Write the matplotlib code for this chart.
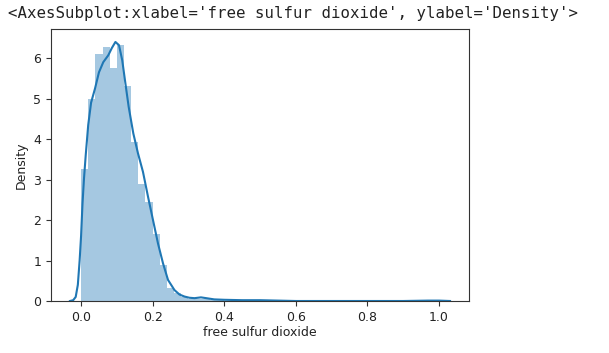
import matplotlib
matplotlib.use("Agg")
import matplotlib.pyplot as plt
import numpy as np

# Histogram (density) of the scaled variable, 50 bins over [0, 1]
bin_edges_start = 0.0
bin_width = 0.02
hist_density = [3.26, 5.00, 6.10, 6.28, 5.76, 6.32, 5.30, 3.92, 2.88, 2.45,
                1.66, 0.89, 0.33, 0.20, 0.10, 0.06, 0.05, 0.06, 0.03, 0.02,
                0.01, 0.01, 0.01, 0.01, 0.00, 0.01, 0.00, 0.00, 0.00, 0.00,
                0.00, 0.00, 0.00, 0.00, 0.00, 0.00, 0.00, 0.00, 0.00, 0.00,
                0.00, 0.00, 0.00, 0.00, 0.00, 0.00, 0.00, 0.00, 0.00, 0.01]

# KDE curve
kde_x = [-0.031, -0.022, -0.015, -0.009, -0.004, 0.000, 0.004, 0.008, 0.013, 0.020,
         0.028, 0.039, 0.050, 0.062, 0.076, 0.086, 0.096, 0.106, 0.115, 0.124,
         0.133, 0.146, 0.159, 0.173, 0.187, 0.201, 0.215, 0.229, 0.243, 0.261,
         0.275, 0.289, 0.303, 0.317, 0.335, 0.350, 0.372, 0.40, 0.45, 0.50,
         0.55, 0.60, 0.70, 0.80, 0.90, 0.97, 1.00, 1.031]
kde_y = [0.00, 0.02, 0.10, 0.40, 1.00, 1.60, 2.40, 3.00, 3.60, 4.35,
         4.90, 5.25, 5.65, 5.90, 6.07, 6.25, 6.40, 6.32, 5.95, 5.37,
         4.80, 4.14, 3.65, 3.19, 2.58, 2.00, 1.42, 0.93, 0.52, 0.27,
         0.16, 0.11, 0.08, 0.07, 0.09, 0.07, 0.04, 0.03, 0.02, 0.02,
         0.01, 0.00, 0.00, 0.00, 0.00, 0.01, 0.01, 0.00]

x_ticks = [0.0, 0.2, 0.4, 0.6, 0.8, 1.0]
y_ticks = [0, 1, 2, 3, 4, 5, 6]
x_label = "free sulfur dioxide"
y_label = "Density"
header = "<AxesSubplot:xlabel='free sulfur dioxide', ylabel='Density'>"

color = "#1f77b4"

fig = plt.figure(figsize=(6.09, 3.53), dpi=100)
ax = fig.add_axes([51/609, 1 - 301/353, (469 - 51)/609, (301 - 29)/353])

edges = bin_edges_start + bin_width * np.arange(len(hist_density))
ax.bar(edges, hist_density, width=bin_width, align="edge", color=color,
       alpha=0.4, linewidth=0)
ax.plot(kde_x, kde_y, color=color, lw=1.5)

ax.set_xlim(-0.084, 1.084)
ax.set_ylim(0, 6.72)
ax.set_xticks(x_ticks)
ax.set_xticklabels([f"{v:.1f}" for v in x_ticks])
ax.set_yticks(y_ticks)
ax.tick_params(labelsize=9, colors="#333333", labelcolor="#222222")
ax.set_xlabel(x_label, fontsize=9, color="#222222", labelpad=2)
ax.set_ylabel(y_label, fontsize=9, color="#222222")
for s in ax.spines.values():
    s.set_color("#333333")

fig.text(8/609, 1 - 6/353, header, family="DejaVu Sans Mono", fontsize=11.3,
         va="top", ha="left", color="#222222")

fig.savefig("out.png", dpi=100)
